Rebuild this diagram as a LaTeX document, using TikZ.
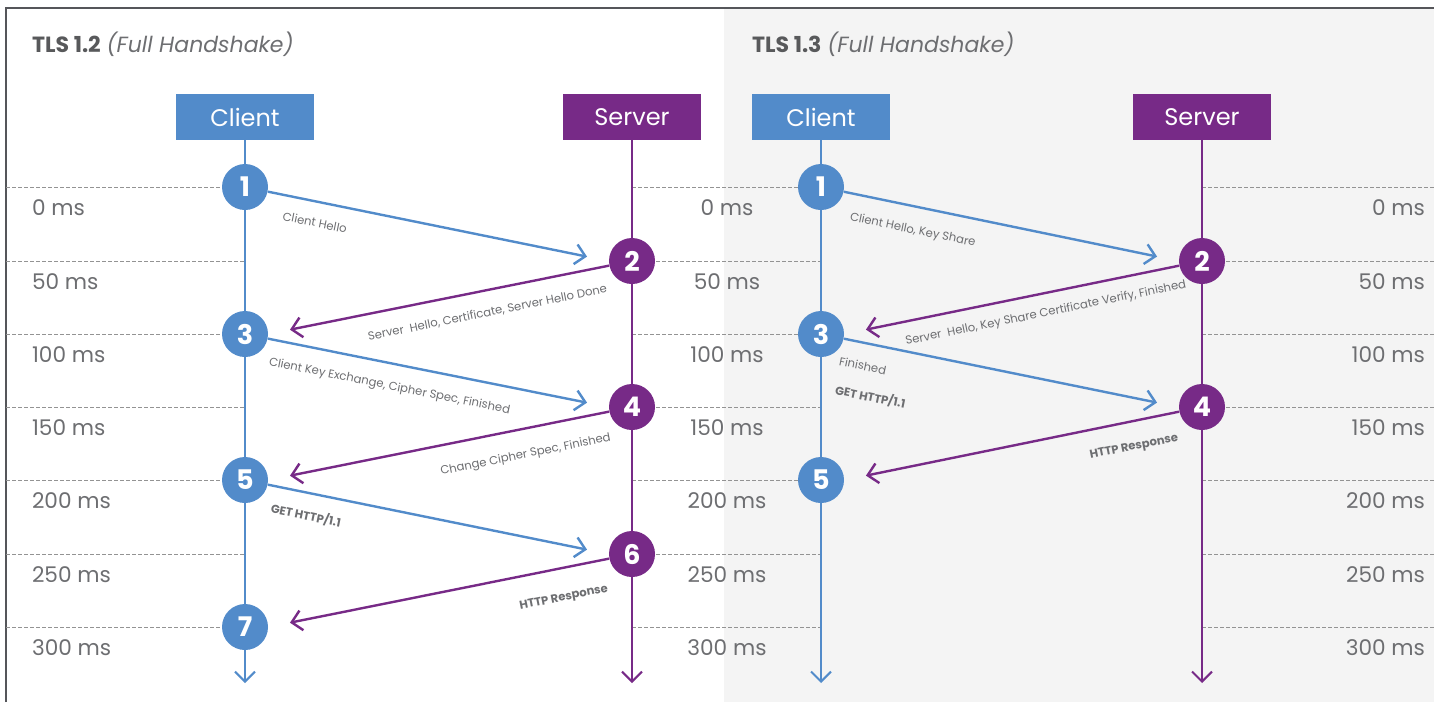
\documentclass[tikz,border=0pt]{standalone}
\usepackage{fontspec}
\setmainfont{Poppins}
\usetikzlibrary{arrows.meta,positioning}
\definecolor{tlsblue}{HTML}{528BCA}
\definecolor{tlspurple}{HTML}{772A87}
\definecolor{inkgray}{HTML}{6D6E71}
\definecolor{titlegray}{HTML}{58595B}
\definecolor{panelgray}{HTML}{F4F4F4}
\definecolor{framegray}{HTML}{55565A}

\begin{document}
\begin{tikzpicture}[x=0.5pt,y=-0.5pt,
    party/.style={minimum width=69pt,minimum height=23pt,inner sep=0pt,text=white,font=\fontsize{12}{14}\selectfont},
    stepdot/.style={circle,minimum size=23pt,inner sep=0pt,text=white,font=\fontsize{13.5}{15}\selectfont\bfseries},
    msg/.style={line width=1.2pt,-{Straight Barb[length=5pt,width=10pt]},shorten >=11pt},
    life/.style={line width=1pt,-{Straight Barb[length=5pt,width=10pt]}},
    lbl/.style={sloped,inner sep=0pt,text=inkgray,font=\fontsize{5.8}{7}\selectfont},
    timerow/.style={draw=gray!85,line width=0.5pt,dash pattern=on 2pt off 1pt},
    mslbl/.style={text=inkgray,font=\fontsize{10.8}{12}\selectfont}]
        \useasboundingbox (0,0) rectangle (1434,702);
        \fill[panelgray] (724,9) rectangle (1434,702);
        \draw[framegray,line width=1pt] (6,702) -- (6,8) -- (1434,8);

        \node[anchor=west,font=\fontsize{11}{13}\selectfont] (title12) at (25,44)
            {\textcolor{titlegray}{\bfseries TLS 1.2} \textcolor{inkgray}{\itshape(Full Handshake)}};
        \node[anchor=west,font=\fontsize{11}{13}\selectfont] (title13) at (745,44)
            {\textcolor{titlegray}{\bfseries TLS 1.3} \textcolor{inkgray}{\itshape(Full Handshake)}};

        % time rows
        \foreach \yy/\tval in {187/0,261/50,334/100,407/150,480/200,554/250,627/300} {
            \draw[timerow] (6,\yy) -- (245,\yy);
            \draw[timerow] (632,\yy) -- (821,\yy);
            \draw[timerow] (1202,\yy) -- (1434,\yy);
            \node[mslbl,anchor=west] (msa-\tval) at (25,\yy+21) {\tval\ ms};
            \node[mslbl] (msb-\tval) at (727,\yy+21) {\tval\ ms};
            \node[mslbl,anchor=east] (msc-\tval) at (1432,\yy+21) {\tval\ ms};
        };

        % TLS 1.2
        \node[party,fill=tlsblue] (cli) at (245,117) {Client};
        \node[party,fill=tlspurple] (srv) at (632,117) {Server};
        \coordinate (cli-end) at (245,683);
        \coordinate (srv-end) at (632,683);
        \draw[life,tlsblue] (cli) -- (cli-end);
        \draw[life,tlspurple] (srv) -- (srv-end);

        \node[stepdot,fill=tlsblue] (a1) at (245,187) {1};
        \node[stepdot,fill=tlspurple] (a2) at (632,261) {2};
        \node[stepdot,fill=tlsblue] (a3) at (245,334) {3};
        \node[stepdot,fill=tlspurple] (a4) at (632,407) {4};
        \node[stepdot,fill=tlsblue] (a5) at (245,480) {5};
        \node[stepdot,fill=tlspurple] (a6) at (632,554) {6};
        \node[stepdot,fill=tlsblue] (a7) at (245,627) {7};

        \draw[msg,tlsblue] (a1) -- (a2.west)
            node[lbl,pos=.15,below=7.5pt] (m1) {Client Hello};
        \draw[msg,tlspurple] (a2) -- (a3.east)
            node[lbl,pos=.37,below=8pt] (m2) {Server~ Hello, Certificate, Server Hello Done};
        \draw[msg,tlsblue] (a3) -- (a4.west)
            node[lbl,pos=.37,below=8pt] (m3) {Client Key Exchange, Cipher Spec, Finished};
        \draw[msg,tlspurple] (a4) -- (a5.east)
            node[lbl,pos=.26,below=9.5pt] (m4) {Change Cipher Spec, Finished};
        \draw[msg,tlsblue] (a5) -- (a6.west)
            node[lbl,pos=.125,below=7.5pt,font=\fontsize{5.8}{7}\selectfont\bfseries] (m5) {GET HTTP/1.1};
        \draw[msg,tlspurple] (a6) -- (a7.east)
            node[lbl,pos=.15,below=11.5pt,font=\fontsize{5.8}{7}\selectfont\bfseries] (m6) {HTTP Response};

        % TLS 1.3
        \node[party,fill=tlsblue] (cli3) at (821,117) {Client};
        \node[party,fill=tlspurple] (srv3) at (1202,117) {Server};
        \coordinate (cli3-end) at (821,683);
        \coordinate (srv3-end) at (1202,683);
        \draw[life,tlsblue] (cli3) -- (cli3-end);
        \draw[life,tlspurple] (srv3) -- (srv3-end);

        \node[stepdot,fill=tlsblue] (b1) at (821,187) {1};
        \node[stepdot,fill=tlspurple] (b2) at (1202,261) {2};
        \node[stepdot,fill=tlsblue] (b3) at (821,334) {3};
        \node[stepdot,fill=tlspurple] (b4) at (1202,407) {4};
        \node[stepdot,fill=tlsblue] (b5) at (821,480) {5};

        \draw[msg,tlsblue] (b1) -- (b2.west)
            node[lbl,pos=.22,below=8.5pt] (n1) {Client Hello, Key Share};
        \draw[msg,tlspurple] (b2) -- (b3.east)
            node[lbl,pos=.41,below=6.5pt] (n2) {Server~ Hello, Key Share Certificate Verify, Finished};
        \draw[msg,tlsblue] (b3) -- (b4.west)
            node[lbl,pos=.07,below=8.5pt] (n3) {Finished}
            node[lbl,pos=.11,below=22pt,font=\fontsize{5.8}{7}\selectfont\bfseries] (n4) {GET HTTP/1.1};
        \draw[msg,tlspurple] (b4) -- (b5.east)
            node[lbl,pos=.15,below=9.5pt,font=\fontsize{5.8}{7}\selectfont\bfseries] (n5) {HTTP Response};
\end{tikzpicture}
\end{document}
